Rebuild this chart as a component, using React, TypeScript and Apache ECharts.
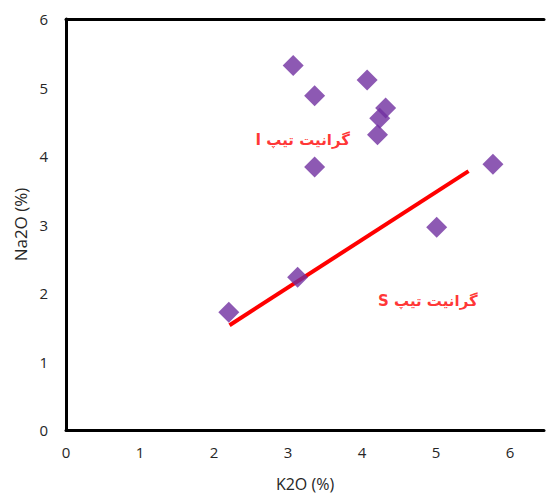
import React, { useEffect, useRef } from "react";
import * as echarts from "echarts";

const k2o = [3.07, 4.07, 3.36, 4.32, 4.24, 4.21, 3.36, 5.77, 5.01, 3.13, 2.2];
const na2o = [5.32, 5.11, 4.88, 4.7, 4.55, 4.31, 3.84, 3.88, 2.96, 2.23, 1.72];
const trendX = [2.21, 5.44];
const trendY = [1.53, 3.78];
const labelText = ["I گرانیت تیپ", "S گرانیت تیپ"];
const labelX = [3.2, 4.89];
const labelY = [4.23, 1.88];

export default function App() {
  const ref = useRef<HTMLDivElement>(null);
  useEffect(() => {
    if (!ref.current) return;
    const chart = echarts.init(ref.current, null, { renderer: "svg" });
    const font = "Open Sans";
    chart.setOption({
      animation: false,
      backgroundColor: "#fff",
      grid: { left: 66, top: 19, bottom: 67, right: 0 },
      xAxis: [
        {
          type: "value",
          min: 0,
          max: 6.46,
          interval: 1,
          name: "K2O (%)",
          nameLocation: "middle",
          nameGap: 46,
          nameTextStyle: { fontFamily: font, fontSize: 16, color: "#262626" },
          axisLine: { show: true, onZero: false, lineStyle: { color: "#000", width: 3 } },
          axisTick: { show: false },
          splitLine: { show: false },
          axisLabel: {
            margin: 14,
            fontFamily: font,
            fontSize: 15,
            color: "#262626",
            formatter: (v: number) => (Number.isInteger(v) ? String(v) : ""),
          },
        },
        {
          type: "value",
          position: "top",
          min: 0,
          max: 6.46,
          interval: 1,
          axisLine: { show: true, onZero: false, lineStyle: { color: "#000", width: 3 } },
          axisTick: { show: false },
          splitLine: { show: false },
          axisLabel: { show: false },
        },
      ],
      yAxis: {
        type: "value",
        min: 0,
        max: 6,
        interval: 1,
        name: "Na2O (%)",
        nameLocation: "middle",
        nameGap: 36,
        nameTextStyle: { fontFamily: font, fontSize: 17, color: "#262626" },
        axisLine: { show: true, onZero: false, lineStyle: { color: "#000", width: 3 } },
        axisTick: { show: false },
        splitLine: { show: false },
        axisLabel: { margin: 18, fontFamily: font, fontSize: 15, color: "#262626" },
      },
      series: [
        {
          type: "line",
          data: trendX.map((x, i) => [x, trendY[i]]),
          symbol: "none",
          lineStyle: { color: "#ff0000", width: 4 },
          z: 2,
        },
        {
          type: "scatter",
          data: k2o.map((x, i) => [x, na2o[i]]),
          symbol: "diamond",
          symbolSize: 21,
          itemStyle: { color: "#7030A0" },
          z: 3,
        },
        {
          type: "scatter",
          data: labelX.map((x, i) => ({ value: [x, labelY[i]], name: labelText[i] })),
          symbolSize: 0,
          silent: true,
          label: {
            show: true,
            position: "inside",
            formatter: (p: any) => p.name,
            color: "#ff0000",
            fontFamily: "DejaVu Sans",
            fontWeight: "bold",
            fontSize: 15,
          },
          z: 4,
        },
      ],
    });
    return () => chart.dispose();
  }, []);
  return <div ref={ref} style={{ width: 547, height: 497, position: "absolute", left: 0, top: 0 }} />;
}
